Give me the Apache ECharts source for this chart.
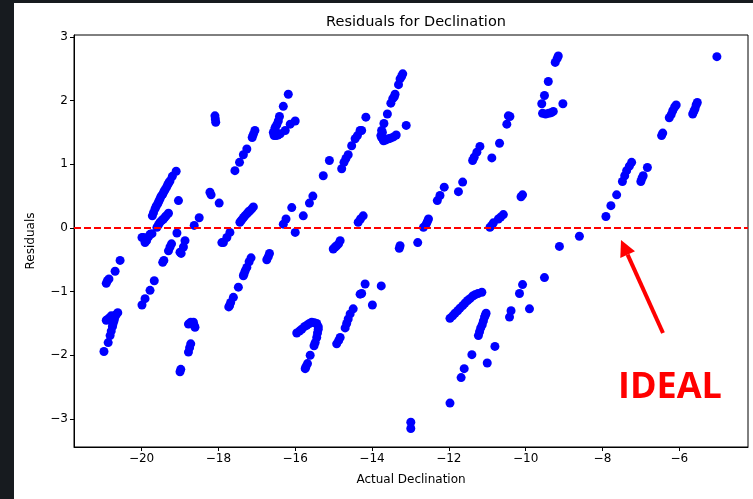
<!DOCTYPE html>
<html><head><meta charset="utf-8">
<script src="https://cdn.jsdelivr.net/npm/echarts@6/dist/echarts.min.js"></script>
<style>html,body{margin:0;padding:0;background:#171b1f}#c{width:753px;height:499px}</style>
</head><body><div id="c"></div><script>
// ---- data (Actual Declination, Residual) ----
const bandA = [
[-20.98,-1.94],[-20.87,-1.80],[-20.82,-1.69],[-20.79,-1.62],[-20.76,-1.55],[-20.74,-1.49],[-20.71,-1.43],[-20.69,-1.39],[-20.66,-1.36],[-20.62,-1.33],[-20.92,-1.45],[-20.87,-1.43],[-20.83,-1.41],[-20.79,-1.38],[-20.75,-1.52],[-20.72,-1.46],
[-20.92,-0.87],[-20.89,-0.83],[-20.85,-0.80],[-20.69,-0.68],[-20.56,-0.51]
];
const bandB = [
[-19.99,-1.21],[-19.91,-1.11],[-19.78,-0.98],[-19.67,-0.83],
[-19.45,-0.54],[-19.42,-0.51],[-19.30,-0.36],[-19.26,-0.30],[-19.22,-0.25],
[-19.00,-0.38],[-18.97,-0.40],[-18.91,-0.30],[-18.87,-0.20],
[-18.63,0.04],[-18.50,0.16],[-19.08,-0.08],[-19.04,0.43],
[-19.99,-0.15],[-19.95,-0.15],[-19.91,-0.23],[-19.87,-0.20],[-19.82,-0.14],[-19.78,-0.10],[-19.73,-0.09],
[-19.72,0.19],[-19.69,0.24],[-19.65,0.30],[-19.62,0.34],[-19.58,0.38],[-19.55,0.42],[-19.52,0.46],[-19.49,0.50],[-19.45,0.53],[-19.42,0.57],[-19.39,0.60],[-19.35,0.64],[-19.32,0.68],[-19.29,0.71],[-19.26,0.74],[-19.20,0.81],[-19.10,0.89],
[-19.60,0.01],[-19.56,0.05],[-19.52,0.09],[-19.47,0.12],[-19.43,0.14],[-19.39,0.17],[-19.36,0.19],[-19.30,0.23],
[-18.22,0.56],[-18.19,0.52],[-17.98,0.39],
[-18.09,1.76],[-18.08,1.71],[-18.07,1.66],
[-17.91,-0.23],
[-18.78,-1.51],[-18.72,-1.48],[-18.65,-1.48],[-18.61,-1.56],[-18.63,-1.53],[-18.72,-1.82],[-18.75,-1.88],[-18.78,-1.95],[-19.00,-2.26],[-18.98,-2.22]
];
const bandC = [
[-17.87,-0.23],[-17.78,-0.15],[-17.70,-0.07],
[-17.44,0.09],[-17.40,0.12],[-17.35,0.16],[-17.31,0.19],[-17.26,0.22],[-17.22,0.25],[-17.18,0.27],[-17.13,0.30],[-17.09,0.33],
[-17.57,0.90],[-17.45,1.03],[-17.35,1.15],[-17.26,1.24],[-17.12,1.42],[-17.09,1.47],[-17.05,1.53],
[-16.18,2.10],[-16.31,1.91],[-16.41,1.75],[-16.44,1.68],[-16.48,1.62],[-16.52,1.58],[-16.53,1.55],[-16.57,1.50],[-16.55,1.45],[-16.50,1.45],[-16.45,1.46],[-16.39,1.48],[-16.26,1.53],[-16.13,1.63],[-16.00,1.68],
[-16.09,0.32],[-16.24,0.14],[-16.31,0.06],[-16.00,-0.07],[-15.79,0.19],[-15.63,0.39],[-15.54,0.50],
[-15.27,0.82],[-15.11,1.06],
[-14.79,0.93],[-14.73,1.03],[-14.68,1.09],[-14.62,1.15],[-14.53,1.29],[-14.44,1.40],[-14.38,1.45],[-14.31,1.53],[-14.16,1.74],
[-14.23,0.19],[-14.30,0.14],[-14.36,0.09],
[-15.01,-0.33],[-14.96,-0.30],[-14.92,-0.28],[-14.87,-0.25],[-14.83,-0.20],
[-16.74,-0.50],[-16.70,-0.45],[-16.67,-0.40],
[-17.15,-0.47],[-17.20,-0.53],[-17.26,-0.62],[-17.30,-0.67],[-17.33,-0.72],[-17.35,-0.75],[-17.48,-0.93],[-17.61,-1.09],[-17.68,-1.17],[-17.71,-1.22],[-17.73,-1.24]
];
const bandC2 = [
[-15.96,-1.65],[-15.89,-1.62],[-15.83,-1.59],[-15.76,-1.55],[-15.70,-1.53],[-15.63,-1.50],[-15.57,-1.48],[-15.50,-1.49],[-15.44,-1.50],[-15.40,-1.55],[-15.40,-1.59],[-15.42,-1.65],[-15.44,-1.72],[-15.48,-1.80],[-15.51,-1.85],[-15.61,-2.00],[-15.68,-2.13],[-15.72,-2.18],[-15.74,-2.21],
[-14.18,-0.88],[-14.31,-1.04],[-14.49,-1.27],[-14.57,-1.35],[-14.62,-1.43],[-14.66,-1.50],[-14.70,-1.57],[-14.83,-1.72],[-14.87,-1.77],[-14.92,-1.82]
];
const bandD = [
[-13.20,2.42],[-13.23,2.38],[-13.27,2.34],[-13.31,2.25],[-13.40,2.10],[-13.42,2.06],[-13.46,2.03],[-13.51,1.96],[-13.60,1.79],[-13.69,1.64],[-13.73,1.50],[-13.75,1.53],[-13.77,1.45],[-13.75,1.42],[-13.72,1.40],[-13.70,1.37],[-13.65,1.38],[-13.57,1.40],[-13.52,1.41],[-13.44,1.43],[-13.37,1.46],[-13.11,1.61],
[-14.27,1.53],
[-12.99,-3.05],[-12.99,-3.15],
[-12.81,-0.23],[-13.27,-0.28],[-13.29,-0.32],
[-13.99,-1.21],[-13.76,-0.91],[-14.27,-1.03],
[-12.66,0.01],[-12.59,0.06],[-12.56,0.10],[-12.53,0.14],
[-12.30,0.43],[-12.23,0.51],[-12.12,0.64],[-11.75,0.57],[-11.64,0.72]
];
const bandE = [
[-11.38,1.06],[-11.34,1.11],[-11.27,1.19],[-11.19,1.28],[-10.88,1.10],[-10.68,1.33],[-10.49,1.63],[-10.45,1.76],[-10.41,1.75],
[-9.15,2.70],[-9.18,2.66],[-9.23,2.60],[-9.41,2.30],[-9.51,2.08],[-9.58,1.95],[-9.56,1.80],[-9.48,1.79],[-9.40,1.80],[-9.33,1.81],[-9.28,1.83],[-9.03,1.95],
[-10.93,0.01],[-10.88,0.04],[-10.84,0.08],[-10.71,0.14],[-10.65,0.17],[-10.58,0.21],
[-10.08,0.52],[-10.12,0.49],
[-9.12,-0.29],[-8.60,-0.13],
[-11.97,-1.42],[-11.90,-1.38],[-11.84,-1.34],[-11.77,-1.30],[-11.71,-1.26],[-11.64,-1.22],[-11.58,-1.18],[-11.51,-1.14],[-11.45,-1.11],[-11.38,-1.07],[-11.32,-1.05],[-11.24,-1.03],[-11.14,-1.01],
[-11.03,-1.34],[-11.05,-1.37],[-11.07,-1.40],[-11.10,-1.46],[-11.13,-1.52],[-11.17,-1.57],[-11.20,-1.63],[-11.23,-1.69],
[-10.80,-1.86],[-11.40,-1.99],[-11.00,-2.12],[-11.60,-2.21],[-11.68,-2.35],[-11.97,-2.75],
[-10.16,-1.03],[-10.08,-0.89],[-9.51,-0.78],[-9.90,-1.27],[-10.38,-1.30],[-10.42,-1.40]
];
const bandF = [
[-7.91,0.18],[-7.78,0.35],[-7.63,0.52],[-7.48,0.73],[-7.42,0.82],[-7.37,0.90],[-7.30,0.97],[-7.24,1.03],
[-7.00,0.73],[-6.97,0.78],[-6.94,0.82],[-6.83,0.95],
[-6.46,1.45],[-6.43,1.49],[-6.26,1.73],[-6.21,1.78],[-6.17,1.84],[-6.12,1.90],[-6.08,1.93],
[-5.65,1.79],[-5.62,1.83],[-5.59,1.87],[-5.56,1.93],[-5.53,1.97],
[-5.02,2.69]
];
const xTicks = [-20, -18, -16, -14, -12, -10, -8, -6];
const yTicks = [-3, -2, -1, 0, 1, 2, 3];
const idealResidual = 0;
const titleText = 'Residuals for Declination';
const xName = 'Actual Declination';
const yName = 'Residuals';
const noteText = 'IDEAL';

const points = [].concat(bandA, bandB, bandC, bandC2, bandD, bandE, bandF);
const FONT = 'DejaVu Sans';
const fmt = v => String(v).replace('-', '\u2212');

const chart = echarts.init(document.getElementById('c'), null, {renderer: 'canvas'});
chart.setOption({
  animation: false,
  backgroundColor: '#171b1f',
  title: {
    text: titleText, left: 411, top: 10, textAlign: 'center',
    textStyle: {fontFamily: FONT, fontSize: 14.5, fontWeight: 'normal', color: '#000'}
  },
  grid: {left: 74, top: 35, width: 674, height: 412, show: true, borderColor: '#000', borderWidth: 1, backgroundColor: 'transparent'},
  xAxis: {
    type: 'value', min: -21.76, max: -4.21,
    name: xName, nameLocation: 'middle', nameGap: 27,
    nameTextStyle: {fontFamily: FONT, fontSize: 12, color: '#000'},
    splitLine: {show: false},
    axisLine: {show: true, onZero: false, lineStyle: {color: '#000', width: 1}},
    axisTick: {show: true, length: 4, customValues: xTicks, lineStyle: {color: '#000'}},
    axisLabel: {customValues: xTicks, formatter: fmt, fontFamily: FONT, fontSize: 12, color: '#000', margin: 6}
  },
  yAxis: {
    type: 'value', min: -3.44, max: 3.03,
    name: yName, nameLocation: 'middle', nameGap: 37,
    nameTextStyle: {fontFamily: FONT, fontSize: 12, color: '#000'},
    splitLine: {show: false},
    axisLine: {show: true, onZero: false, lineStyle: {color: '#000', width: 1}},
    axisTick: {show: true, length: 4, customValues: yTicks, lineStyle: {color: '#000'}},
    axisLabel: {customValues: yTicks, formatter: fmt, fontFamily: FONT, fontSize: 12, color: '#000', margin: 6}
  },
  series: [{
    type: 'scatter',
    data: points,
    symbol: 'circle',
    symbolSize: 9,
    itemStyle: {color: '#0000ff', opacity: 1},
    silent: true,
    z: 3,
    markLine: {
      silent: true, symbol: ['none', 'none'],
      label: {show: false},
      lineStyle: {color: '#ff0000', width: 1.8, type: [7, 3]},
      data: [{yAxis: idealResidual}]
    }
  }],
  graphic: [
    {type: 'rect', shape: {x: 14, y: 3, width: 739, height: 496}, style: {fill: '#ffffff'}, z: -100, silent: true},
    {type: 'line', shape: {x1: 663, y1: 333, x2: 627.6, y2: 254.6}, style: {stroke: '#ff0000', lineWidth: 4}, z: 50, silent: true},
    {type: 'polygon', shape: {points: [[621, 240], [635, 251.3], [620.3, 258]]}, style: {fill: '#ff0000'}, z: 50, silent: true},
    {type: 'text', x: 670, y: 388, style: {text: noteText, fill: '#ff0000', font: 'bold 36px "Open Sans"', textAlign: 'center', textVerticalAlign: 'middle'}, z: 50, silent: true}
  ]
});
</script></body></html>
